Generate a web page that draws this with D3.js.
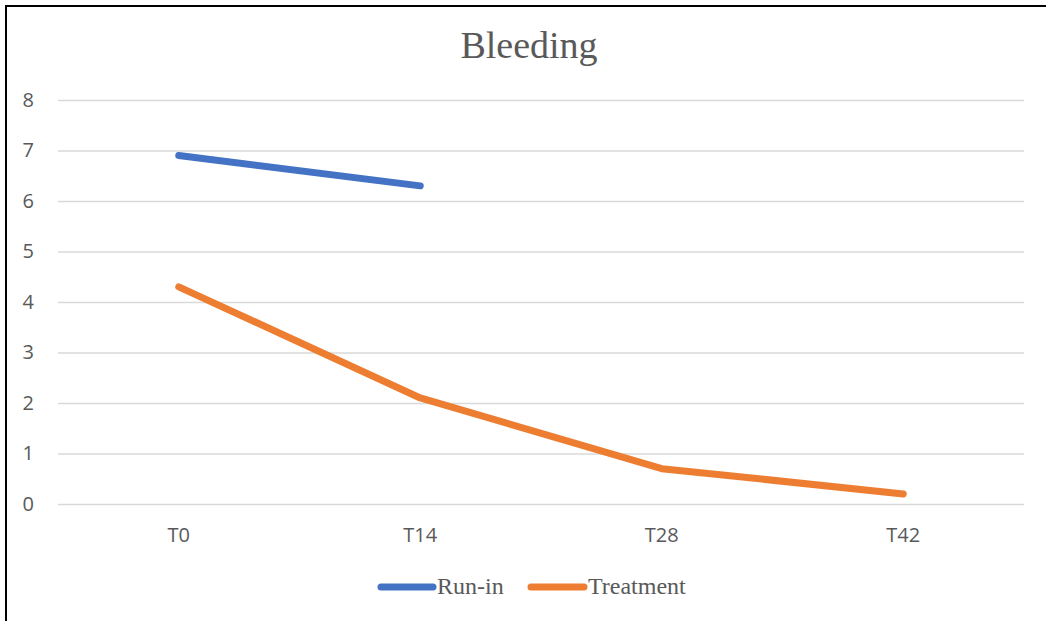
<!DOCTYPE html>
<html>
<head>
<meta charset="utf-8">
<script src="https://cdn.jsdelivr.net/npm/d3@7"></script>
<style>
  html, body { margin: 0; padding: 0; background: #fff; }
  svg { display: block; }
</style>
</head>
<body>
<svg id="chart" width="1046" height="621"></svg>
<script>
// Bleeding scores over visits
const categories = ["T0", "T14", "T28", "T42"];
const runIn = [6.9, 6.3, null, null];
const treatment = [4.3, 2.1, 0.7, 0.2];
const yTicks = [0, 1, 2, 3, 4, 5, 6, 7, 8];
const seriesNames = ["Run-in", "Treatment"];
const seriesColors = ["#4472C4", "#ED7D31"];

const svg = d3.select("#chart");
const W = 1046, H = 621;
const plot = { left: 58, right: 1024, top: 100, bottom: 504 };

// outer frame
svg.append("rect")
  .attr("x", 6).attr("y", 6)
  .attr("width", W + 10).attr("height", H + 10)
  .attr("fill", "#fff").attr("stroke", "#000").attr("stroke-width", 2);

const x = d3.scaleBand().domain(categories).range([plot.left, plot.right]);
const y = d3.scaleLinear().domain([0, 8]).range([plot.bottom, plot.top]);

// title
svg.append("text")
  .attr("x", 529).attr("y", 58)
  .attr("text-anchor", "middle")
  .attr("font-family", "'Liberation Serif', 'Times New Roman', serif")
  .attr("font-size", 38).attr("fill", "#595959")
  .text("Bleeding");

// horizontal gridlines and y labels
const yAxis = d3.axisLeft(y).tickValues(yTicks).tickSize(-(plot.right - plot.left)).tickPadding(24).tickFormat(d3.format("d"));
const gy = svg.append("g").attr("transform", `translate(${plot.left},0)`).call(yAxis);
gy.select(".domain").remove();
gy.selectAll(".tick line").attr("stroke", "#d9d9d9").attr("stroke-width", 1.5);
gy.selectAll(".tick text")
  .attr("font-family", "'Open Sans', 'Noto Sans', sans-serif")
  .attr("font-size", 20).attr("fill", "#595959");

// x labels
const xAxis = d3.axisBottom(x).tickSize(0).tickPadding(24);
const gx = svg.append("g").attr("transform", `translate(0,${plot.bottom})`).call(xAxis);
gx.select(".domain").remove();
gx.selectAll(".tick text")
  .attr("font-family", "'Open Sans', 'Noto Sans', sans-serif")
  .attr("font-size", 20).attr("fill", "#595959");

// series lines
const line = d3.line()
  .defined(d => d.v != null)
  .x(d => x(d.c) + x.bandwidth() / 2)
  .y(d => y(d.v));

[runIn, treatment].forEach((vals, i) => {
  const pts = categories.map((c, k) => ({ c, v: vals[k] }));
  svg.append("path")
    .datum(pts)
    .attr("d", line)
    .attr("fill", "none")
    .attr("stroke", seriesColors[i])
    .attr("stroke-width", 7)
    .attr("stroke-linecap", "round")
    .attr("stroke-linejoin", "round");
});

// legend
const legendItems = [
  { x1: 381, x2: 433, tx: 437 },
  { x1: 531, x2: 584, tx: 588 }
];
const ly = 587;
legendItems.forEach((it, i) => {
  svg.append("line")
    .attr("x1", it.x1).attr("x2", it.x2).attr("y1", ly).attr("y2", ly)
    .attr("stroke", seriesColors[i]).attr("stroke-width", 7).attr("stroke-linecap", "round");
  svg.append("text")
    .attr("x", it.tx).attr("y", 594)
    .attr("font-family", "'Liberation Serif', 'Times New Roman', serif")
    .attr("font-size", 24).attr("fill", "#595959")
    .text(seriesNames[i]);
});
</script>
</body>
</html>
